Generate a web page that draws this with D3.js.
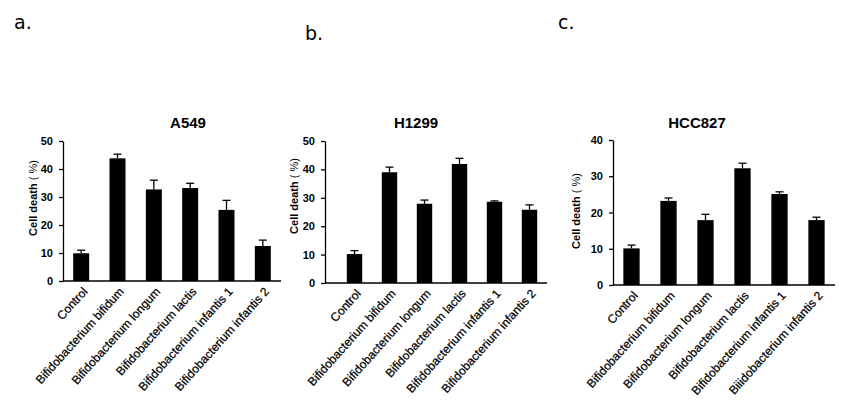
<!DOCTYPE html>
<html><head><meta charset="utf-8">
<script src="https://cdn.jsdelivr.net/npm/d3@7"></script>
<style>body{margin:0;background:#fff;} svg{display:block;font-family:"Liberation Sans",Arial,sans-serif;}</style>
</head><body>
<svg id="chart" width="848" height="408"></svg>
<script>
const categories = ["Control","Bifidobacterium bifidum","Bifidobacterium longum","Bifidobacterium lactis","Bifidobacterium infantis 1","Bifidobacterium infantis 2"];
const categoriesC = ["Control","Bifidobacterium bifidum","Bifidobacterium longum","Bifidobacterium lactis","Bifidobacterium infantis 1","Biiidobacterium infantis 2"];
const titles = ["A549","H1299","HCC827"];
const panelLetters = ["a.","b.","c."];
const valuesA549 = [9.9, 43.8, 32.7, 33.2, 25.4, 12.5];
const errorsA549 = [1.1, 1.5, 3.3, 1.7, 3.4, 2.1];
const valuesH1299 = [10.2, 39.0, 27.9, 41.9, 28.6, 25.8];
const errorsH1299 = [1.2, 1.8, 1.3, 2.0, 0.3, 1.7];
const valuesHCC827 = [10.1, 23.2, 17.9, 32.2, 25.1, 17.9];
const errorsHCC827 = [0.9, 0.8, 1.6, 1.4, 0.6, 0.8];
const ticksAB = [0,10,20,30,40,50];
const ticksC = [0,10,20,30,40];
const yLabel = "Cell death";
const yUnit = " ( %)";

const svg = d3.select("#chart");

const panels = [
  {cats: categories, vals: valuesA549, errs: errorsA549, ticks: ticksAB, max: 50,
   x0: 63, x1: 281, bandX0: 63, y0: 281, y1: 141, title: titles[0], tx: 188, letter: panelLetters[0], lx: 14, ly: 29, labX: 37, labY: 198},
  {cats: categories, vals: valuesH1299, errs: errorsH1299, ticks: ticksAB, max: 50,
   x0: 325, x1: 547, bandX0: 337, y0: 283, y1: 141, title: titles[1], tx: 416, letter: panelLetters[1], lx: 305, ly: 40, labX: 298, labY: 196},
  {cats: categoriesC, vals: valuesHCC827, errs: errorsHCC827, ticks: ticksC, max: 40,
   x0: 613, x1: 835, bandX0: 613, y0: 285, y1: 140, title: titles[2], tx: 697, letter: panelLetters[2], lx: 558, ly: 29, labX: 580, labY: 211}
];

panels.forEach(p => {
  const g = svg.append("g");
  const x = d3.scaleBand().domain(p.cats).range([p.bandX0, p.x1]).paddingInner(0.56).paddingOuter(0.28);
  const y = d3.scaleLinear().domain([0, p.max]).range([p.y0, p.y1]);

  g.selectAll("rect.bar").data(p.vals).enter().append("rect")
    .attr("x", (d,i) => x(p.cats[i]))
    .attr("width", x.bandwidth())
    .attr("y", d => y(d))
    .attr("height", d => y(0) - y(d))
    .attr("fill", "#000");

  const cap = 4;
  p.vals.forEach((v,i) => {
    const cx = x(p.cats[i]) + x.bandwidth()/2;
    const top = y(v + p.errs[i]);
    g.append("line").attr("x1", cx).attr("x2", cx).attr("y1", y(v)).attr("y2", top).attr("stroke","#000").attr("stroke-width",1.3);
    g.append("line").attr("x1", cx-cap).attr("x2", cx+cap).attr("y1", top).attr("y2", top).attr("stroke","#000").attr("stroke-width",1.3);
  });

  const yAxis = d3.axisLeft(y).tickValues(p.ticks).tickSize(4).tickSizeOuter(0).tickPadding(6).tickFormat(d3.format("d"));
  const ya = g.append("g").attr("transform", `translate(${p.x0},0)`).call(yAxis);
  ya.select(".domain").attr("stroke","#000").attr("stroke-width",1.3);
  ya.selectAll(".tick line").attr("stroke","#000").attr("stroke-width",1.3);
  ya.selectAll(".tick text").attr("font-size", 11).attr("font-weight","bold").attr("fill","#000")
    .attr("font-family","\"Liberation Sans\",Arial,sans-serif");

  g.append("line").attr("x1", p.x0).attr("x2", p.x1).attr("y1", p.y0).attr("y2", p.y0).attr("stroke","#000").attr("stroke-width",1.3);

  p.cats.forEach((c,i) => {
    const cx = x(c) + x.bandwidth()/2;
    g.append("text").attr("transform", `translate(${cx+7},${p.y0+11}) rotate(-48)`)
      .attr("text-anchor","end").attr("font-size", 12).attr("fill","#000")
      .attr("stroke","#000").attr("stroke-width",0.25).text(c);
  });

  const yl = g.append("text").attr("transform", `translate(${p.labX},${p.labY}) rotate(-90)`)
    .attr("text-anchor","middle").attr("font-size", 11).attr("fill","#000");
  yl.append("tspan").attr("font-weight","bold").text(yLabel);
  yl.append("tspan").text(yUnit);

  g.append("text").attr("x", p.tx).attr("y", 128).attr("text-anchor","middle")
    .attr("font-size", 15).attr("font-weight","bold").attr("fill","#000").text(p.title);

  svg.append("text").attr("x", p.lx).attr("y", p.ly).attr("font-size", 19).attr("fill","#000")
    .attr("font-family","\"DejaVu Sans\",sans-serif").text(p.letter);
});
</script>
</body></html>
